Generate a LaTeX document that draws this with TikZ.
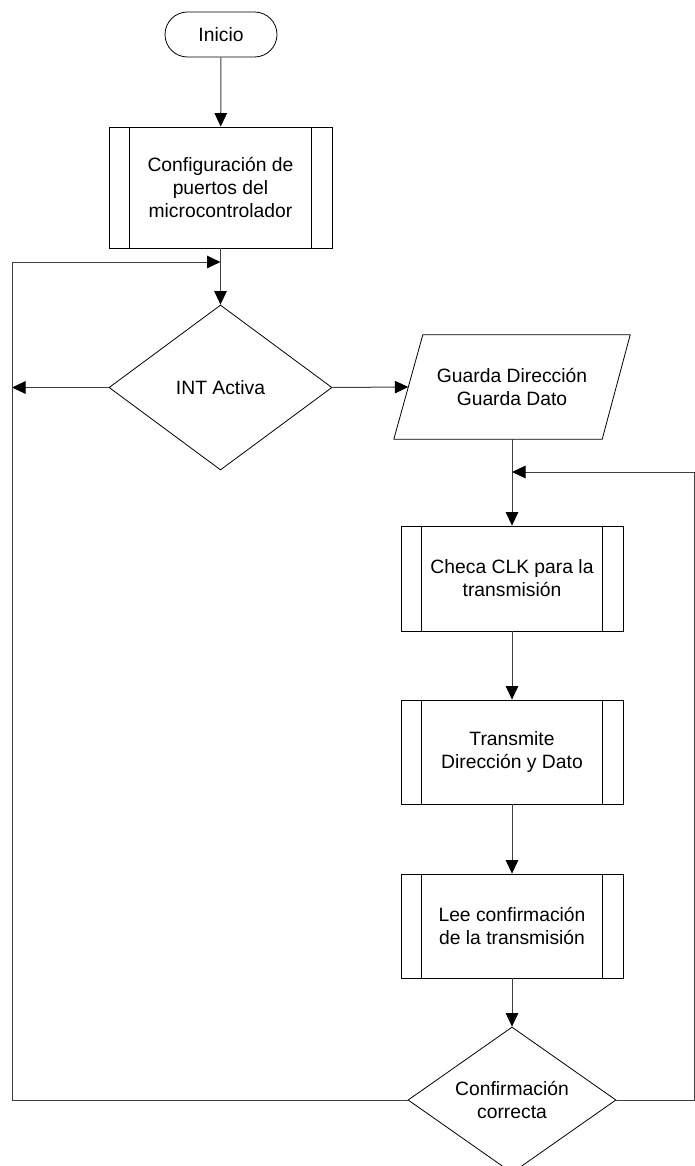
\documentclass[tikz,border=0pt]{standalone}
\usepackage{fontspec}
\setmainfont{Liberation Sans}
\usetikzlibrary{shapes.geometric,arrows.meta}
\begin{document}
\begin{tikzpicture}[x=1pt,y=1pt,
  font=\fontsize{19.3}{23}\selectfont,
  sline/.style={draw=black, line width=0.8pt},
  shp/.style={sline, fill=white, align=center, inner sep=0pt},
  term/.style={shp, rectangle, rounded corners=22.5pt, minimum width=112pt, minimum height=45pt},
  proc/.style={shp, rectangle,
    path picture={
      \draw[line width=0.8pt] ([xshift=20.5pt]path picture bounding box.north west) -- ([xshift=20.5pt]path picture bounding box.south west);
      \draw[line width=0.8pt] ([xshift=-20.5pt]path picture bounding box.north east) -- ([xshift=-20.5pt]path picture bounding box.south east);}},
  dec/.style={shp, diamond},
  conn/.style={draw=black!75, line width=1pt},
  arr/.style={conn, -{Triangle[length=13.5pt, width=12.5pt, color=black]}}
]
\useasboundingbox (0,0) rectangle (695,-1166);
\clip (0,0) rectangle (695,-1166);
\fill[white] (0,0) rectangle (695,-1166);

% nodes
\node[term] (inicio) at (221,-34.5) {Inicio};
\node[proc, minimum width=223pt, minimum height=121pt] (config) at (220.5,-187.5)
  {Configuración de\\puertos del\\microcontrolador};
\node[dec, minimum width=223pt, minimum height=165pt,
  label={[align=center]center:INT Activa}] (int) at (220.5,-387.5) {};
\node[inner sep=0pt, minimum width=236pt, minimum height=104pt, align=center] (guarda) at (512,-387)
  {Guarda Dirección\\Guarda Dato};
\draw[sline] (guarda.south west) -- ([xshift=-28pt]guarda.south east) -- (guarda.north east)
  -- ([xshift=29pt]guarda.north west) -- cycle;
\node[proc, minimum width=222pt, minimum height=105pt] (checa) at (512,-578.5)
  {Checa CLK para la\\transmisión};
\node[proc, minimum width=222pt, minimum height=104pt] (transmite) at (512,-752)
  {Transmite\\Dirección y Dato};
\node[proc, minimum width=222pt, minimum height=104pt] (lee) at (512,-926)
  {Lee confirmación\\de la transmisión};
\node[dec, minimum width=208pt, minimum height=146pt,
  label={[align=center]center:Confirmación\\correcta}] (conf) at (512,-1100) {};

% helper coordinates
\coordinate (j1) at (220.5,-262);
\coordinate (ltop) at (12,-262);
\coordinate (lmid) at (12,-387.5);
\coordinate (lbot) at (12,-1100);
\coordinate (j2) at (512,-472);
\coordinate (rtop) at (694.5,-472);
\coordinate (rbot) at (694.5,-1100);

% connectors
\draw[arr] (inicio) -- (config);
\draw[arr] (config) -- (int);
\draw[arr] (int.west) -- (lmid);
\draw[arr] (int.east) -- ([xshift=14.5pt]guarda.west);
\draw[arr] (guarda.south) -- (checa.north);
\draw[arr] (checa) -- (transmite);
\draw[arr] (transmite) -- (lee);
\draw[arr] (lee) -- (conf);
\draw[arr] (conf.west) -- (lbot) -- (ltop) -- (j1);
\draw[arr] (conf.east) -- (rbot) -- (rtop) -- (j2);
\end{tikzpicture}
\end{document}
